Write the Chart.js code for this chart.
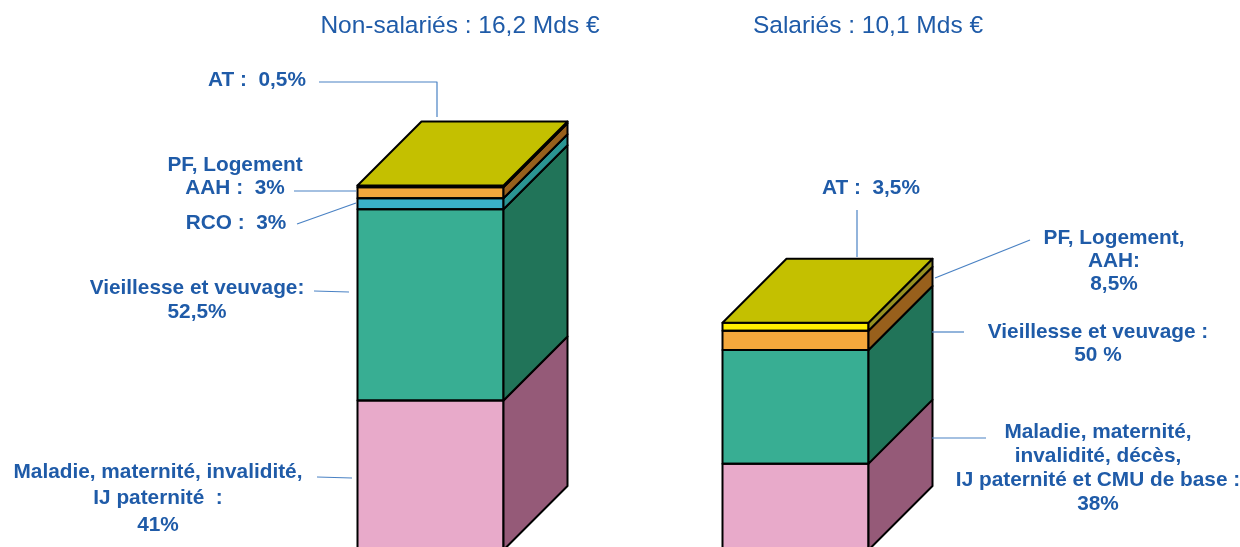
<!DOCTYPE html>
<html>
<head>
  <script src="https://cdn.jsdelivr.net/npm/chart.js"></script>
  <style>
    html, body { margin: 0; padding: 0; overflow: hidden; background: #fff; }
    #wrap { width: 1240px; height: 551px; position: relative; }
  </style>
</head>
<body>
  <div id="wrap"><canvas id="barChart"></canvas></div>

  <script>
    // Regimes and their total spending (Mds €)
    var categories = ['Non-salariés', 'Salariés'];
    var totals = [16.2, 10.1];
    var titles = ['Non-salariés : 16,2 Mds €', 'Salariés : 10,1 Mds €'];

    // Branches, bottom to top, share of each total in %
    var branches = ['Maladie', 'Vieillesse et veuvage', 'RCO', 'PF, Logement, AAH', 'AT'];
    var sharesNonSal = [41, 52.5, 3, 3, 0.5];
    var sharesSal = [38, 50, 0, 8.5, 3.5];

    var frontColors = ['#e8aaca', '#38ae93', '#3ab0c8', '#f4a83c', '#ffee00'];
    var sideColors = ['#955a78', '#217459', '#2a9593', '#98601c', '#959020'];
    var topColor = '#c4c000';
    var textColor = '#1f5ba8';
    var lineColor = '#4a82c4';

    var datasets = [];
    for (var i = 0; i < branches.length; i++) {
      datasets.push({
        label: branches[i],
        data: [totals[0] * sharesNonSal[i] / 100, totals[1] * sharesSal[i] / 100],
        backgroundColor: frontColors[i],
        borderWidth: 0,
        barPercentage: 0.4,
        categoryPercentage: 1
      });
    }

    // Annotation texts and leader lines
    var notes = [
      { lines: ['AT :  0,5%'], x: 257, y: 80 },
      { lines: ['PF, Logement', 'AAH :  3%'], x: 235, y: 165, lh: 23 },
      { lines: ['RCO :  3%'], x: 236, y: 223 },
      { lines: ['Vieillesse et veuvage:', '52,5%'], x: 197, y: 288, lh: 24 },
      { lines: ['Maladie, maternité, invalidité,', 'IJ paternité  :', '41%'], x: 158, y: 472, lh: 26.5 },
      { lines: ['AT :  3,5%'], x: 871, y: 188 },
      { lines: ['PF, Logement,', 'AAH:', '8,5%'], x: 1114, y: 238, lh: 23 },
      { lines: ['Vieillesse et veuvage :', '50 %'], x: 1098, y: 332, lh: 23 },
      { lines: ['Maladie, maternité,', 'invalidité, décès,', 'IJ paternité et CMU de base :', '38%'], x: 1098, y: 432, lh: 24 }
    ];
    var leaders = [
      [[319, 82], [437, 82], [437, 117]],
      [[294, 191], [356, 191]],
      [[297, 224], [356, 203]],
      [[314, 291], [349, 292]],
      [[317, 477], [352, 478]],
      [[857, 210], [857, 257]],
      [[935, 278], [1030, 240]],
      [[932, 332], [964, 332]],
      [[932, 438], [986, 438]]
    ];

    var depth = 64;

    var cube = {
      id: 'cube',
      afterDatasetsDraw: function(chart) {
        var ctx = chart.ctx;
        ctx.save();
        ctx.lineWidth = 2;
        ctx.strokeStyle = '#000';
        ctx.lineJoin = 'round';
        for (var c = 0; c < categories.length; c++) {
          var topY = null, left, right;
          for (var d = 0; d < chart.data.datasets.length; d++) {
            var bar = chart.getDatasetMeta(d).data[c];
            var v = chart.data.datasets[d].data[c];
            if (!v) continue;
            var p = bar.getProps(['x', 'y', 'base', 'width'], true);
            left = p.x - p.width / 2;
            right = p.x + p.width / 2;
            // front outline
            ctx.strokeRect(left, p.y, right - left, p.base - p.y);
            // side face
            ctx.beginPath();
            ctx.moveTo(right, p.base);
            ctx.lineTo(right, p.y);
            ctx.lineTo(right + depth, p.y - depth);
            ctx.lineTo(right + depth, p.base - depth);
            ctx.closePath();
            ctx.fillStyle = sideColors[d];
            ctx.fill();
            ctx.stroke();
            topY = p.y;
          }
          ctx.beginPath();
          ctx.moveTo(left, topY);
          ctx.lineTo(left + depth, topY - depth);
          ctx.lineTo(right + depth, topY - depth);
          ctx.lineTo(right, topY);
          ctx.closePath();
          ctx.fillStyle = topColor;
          ctx.fill();
          ctx.stroke();
        }

        // leader lines
        ctx.strokeStyle = lineColor;
        ctx.lineWidth = 1.2;
        leaders.forEach(function(pts) {
          ctx.beginPath();
          ctx.moveTo(pts[0][0], pts[0][1]);
          for (var k = 1; k < pts.length; k++) ctx.lineTo(pts[k][0], pts[k][1]);
          ctx.stroke();
        });

        // labels
        ctx.fillStyle = textColor;
        ctx.textAlign = 'center';
        ctx.textBaseline = 'middle';
        ctx.font = 'bold 20.8px "Liberation Sans", Arial, sans-serif';
        notes.forEach(function(n) {
          n.lines.forEach(function(t, k) {
            ctx.fillText(t, n.x, n.y + k * (n.lh || 0));
          });
        });

        // titles
        ctx.font = '24.5px "Liberation Sans", Arial, sans-serif';
        ctx.fillText(titles[0], 460, 26);
        ctx.fillText(titles[1], 868, 26);
        ctx.restore();
      }
    };

    var config = {
      type: 'bar',
      data: { labels: categories, datasets: datasets },
      options: {
        responsive: true,
        maintainAspectRatio: false,
        animation: false,
        layout: { padding: { left: 248, right: 262, top: 100, bottom: 1 } },
        plugins: { legend: { display: false }, tooltip: { enabled: false } },
        scales: {
          x: { stacked: true, display: false },
          y: { stacked: true, display: false, min: 0, max: 20 }
        }
      },
      plugins: [cube]
    };

    var ctx = document.getElementById('barChart').getContext('2d');
    new Chart(ctx, config);
  </script>
</body>
</html>
